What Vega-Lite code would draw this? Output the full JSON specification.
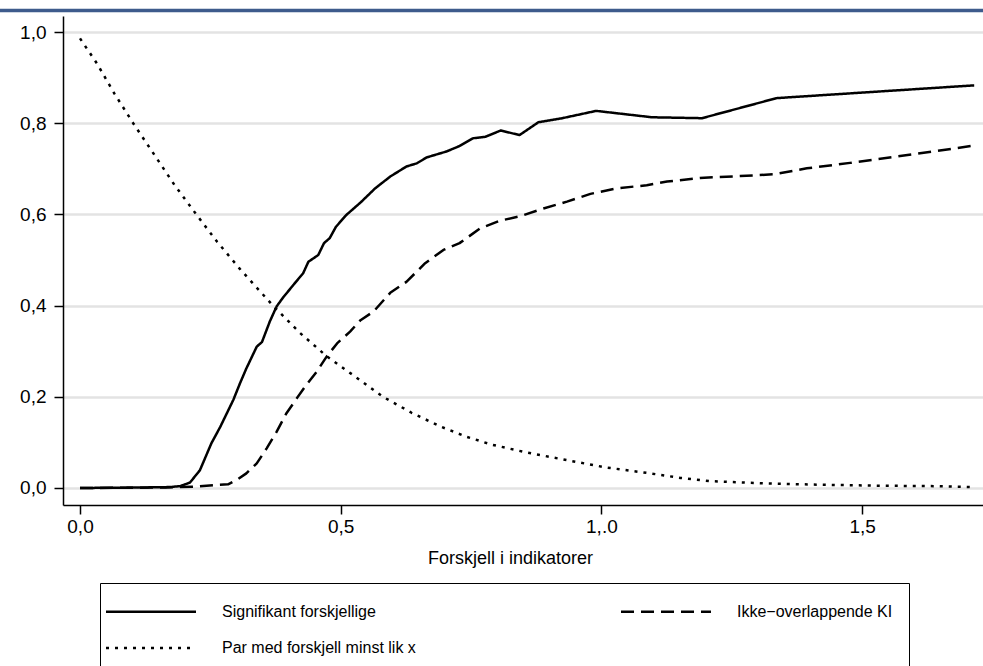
{
  "$schema": "https://vega.github.io/schema/vega-lite/v6.json",
  "width": 920,
  "height": 489,
  "autosize": {"type": "none"},
  "padding": {"left": 63, "top": 16, "right": 0, "bottom": 161},
  "background": "white",
  "config": {
    "view": {"stroke": null},
    "font": "Liberation Sans"
  },
  "datasets": {
    "curves": [
      {"serie": "Signifikant forskjellige", "x": 0.0, "y": 0.0},
      {"serie": "Signifikant forskjellige", "x": 0.110, "y": 0.001},
      {"serie": "Signifikant forskjellige", "x": 0.172, "y": 0.002},
      {"serie": "Signifikant forskjellige", "x": 0.192, "y": 0.004},
      {"serie": "Signifikant forskjellige", "x": 0.211, "y": 0.012},
      {"serie": "Signifikant forskjellige", "x": 0.230, "y": 0.039},
      {"serie": "Signifikant forskjellige", "x": 0.252, "y": 0.098},
      {"serie": "Signifikant forskjellige", "x": 0.269, "y": 0.134},
      {"serie": "Signifikant forskjellige", "x": 0.294, "y": 0.193},
      {"serie": "Signifikant forskjellige", "x": 0.307, "y": 0.230},
      {"serie": "Signifikant forskjellige", "x": 0.319, "y": 0.262},
      {"serie": "Signifikant forskjellige", "x": 0.339, "y": 0.310},
      {"serie": "Signifikant forskjellige", "x": 0.349, "y": 0.320},
      {"serie": "Signifikant forskjellige", "x": 0.364, "y": 0.365},
      {"serie": "Signifikant forskjellige", "x": 0.377, "y": 0.398},
      {"serie": "Signifikant forskjellige", "x": 0.389, "y": 0.417},
      {"serie": "Signifikant forskjellige", "x": 0.409, "y": 0.445},
      {"serie": "Signifikant forskjellige", "x": 0.428, "y": 0.471},
      {"serie": "Signifikant forskjellige", "x": 0.438, "y": 0.496},
      {"serie": "Signifikant forskjellige", "x": 0.457, "y": 0.511},
      {"serie": "Signifikant forskjellige", "x": 0.468, "y": 0.537},
      {"serie": "Signifikant forskjellige", "x": 0.479, "y": 0.548},
      {"serie": "Signifikant forskjellige", "x": 0.491, "y": 0.573},
      {"serie": "Signifikant forskjellige", "x": 0.511, "y": 0.599},
      {"serie": "Signifikant forskjellige", "x": 0.538, "y": 0.626},
      {"serie": "Signifikant forskjellige", "x": 0.566, "y": 0.657},
      {"serie": "Signifikant forskjellige", "x": 0.595, "y": 0.683},
      {"serie": "Signifikant forskjellige", "x": 0.626, "y": 0.705},
      {"serie": "Signifikant forskjellige", "x": 0.646, "y": 0.712},
      {"serie": "Signifikant forskjellige", "x": 0.665, "y": 0.725},
      {"serie": "Signifikant forskjellige", "x": 0.703, "y": 0.738},
      {"serie": "Signifikant forskjellige", "x": 0.728, "y": 0.750},
      {"serie": "Signifikant forskjellige", "x": 0.754, "y": 0.767},
      {"serie": "Signifikant forskjellige", "x": 0.777, "y": 0.770},
      {"serie": "Signifikant forskjellige", "x": 0.807, "y": 0.784},
      {"serie": "Signifikant forskjellige", "x": 0.843, "y": 0.774},
      {"serie": "Signifikant forskjellige", "x": 0.879, "y": 0.802},
      {"serie": "Signifikant forskjellige", "x": 0.925, "y": 0.811},
      {"serie": "Signifikant forskjellige", "x": 0.990, "y": 0.827},
      {"serie": "Signifikant forskjellige", "x": 1.097, "y": 0.813},
      {"serie": "Signifikant forskjellige", "x": 1.193, "y": 0.811},
      {"serie": "Signifikant forskjellige", "x": 1.336, "y": 0.855},
      {"serie": "Signifikant forskjellige", "x": 1.715, "y": 0.883},

      {"serie": "Ikke−overlappende KI", "x": 0.0, "y": 0.0},
      {"serie": "Ikke−overlappende KI", "x": 0.165, "y": 0.001},
      {"serie": "Ikke−overlappende KI", "x": 0.219, "y": 0.003},
      {"serie": "Ikke−overlappende KI", "x": 0.255, "y": 0.006},
      {"serie": "Ikke−overlappende KI", "x": 0.284, "y": 0.008},
      {"serie": "Ikke−overlappende KI", "x": 0.301, "y": 0.018},
      {"serie": "Ikke−overlappende KI", "x": 0.319, "y": 0.032},
      {"serie": "Ikke−overlappende KI", "x": 0.339, "y": 0.054},
      {"serie": "Ikke−overlappende KI", "x": 0.358, "y": 0.087},
      {"serie": "Ikke−overlappende KI", "x": 0.377, "y": 0.123},
      {"serie": "Ikke−overlappende KI", "x": 0.396, "y": 0.164},
      {"serie": "Ikke−overlappende KI", "x": 0.416, "y": 0.197},
      {"serie": "Ikke−overlappende KI", "x": 0.434, "y": 0.226},
      {"serie": "Ikke−overlappende KI", "x": 0.454, "y": 0.255},
      {"serie": "Ikke−overlappende KI", "x": 0.473, "y": 0.288},
      {"serie": "Ikke−overlappende KI", "x": 0.493, "y": 0.317},
      {"serie": "Ikke−overlappende KI", "x": 0.518, "y": 0.343},
      {"serie": "Ikke−overlappende KI", "x": 0.538, "y": 0.368},
      {"serie": "Ikke−overlappende KI", "x": 0.563, "y": 0.387},
      {"serie": "Ikke−overlappende KI", "x": 0.595, "y": 0.428},
      {"serie": "Ikke−overlappende KI", "x": 0.626, "y": 0.452},
      {"serie": "Ikke−overlappende KI", "x": 0.662, "y": 0.493},
      {"serie": "Ikke−overlappende KI", "x": 0.697, "y": 0.522},
      {"serie": "Ikke−overlappende KI", "x": 0.728, "y": 0.537},
      {"serie": "Ikke−overlappende KI", "x": 0.767, "y": 0.569},
      {"serie": "Ikke−overlappende KI", "x": 0.805, "y": 0.586},
      {"serie": "Ikke−overlappende KI", "x": 0.844, "y": 0.596},
      {"serie": "Ikke−overlappende KI", "x": 0.889, "y": 0.613},
      {"serie": "Ikke−overlappende KI", "x": 0.934, "y": 0.628},
      {"serie": "Ikke−overlappende KI", "x": 0.979, "y": 0.645},
      {"serie": "Ikke−overlappende KI", "x": 1.029, "y": 0.657},
      {"serie": "Ikke−overlappende KI", "x": 1.087, "y": 0.664},
      {"serie": "Ikke−overlappende KI", "x": 1.126, "y": 0.672},
      {"serie": "Ikke−overlappende KI", "x": 1.189, "y": 0.680},
      {"serie": "Ikke−overlappende KI", "x": 1.266, "y": 0.684},
      {"serie": "Ikke−overlappende KI", "x": 1.331, "y": 0.688},
      {"serie": "Ikke−overlappende KI", "x": 1.394, "y": 0.701},
      {"serie": "Ikke−overlappende KI", "x": 1.477, "y": 0.713},
      {"serie": "Ikke−overlappende KI", "x": 1.573, "y": 0.728},
      {"serie": "Ikke−overlappende KI", "x": 1.637, "y": 0.738},
      {"serie": "Ikke−overlappende KI", "x": 1.714, "y": 0.751},

      {"serie": "Par med forskjell minst lik x", "x": 0.0, "y": 0.986},
      {"serie": "Par med forskjell minst lik x", "x": 0.033, "y": 0.93},
      {"serie": "Par med forskjell minst lik x", "x": 0.066, "y": 0.865},
      {"serie": "Par med forskjell minst lik x", "x": 0.102, "y": 0.80},
      {"serie": "Par med forskjell minst lik x", "x": 0.143, "y": 0.73},
      {"serie": "Par med forskjell minst lik x", "x": 0.181, "y": 0.665},
      {"serie": "Par med forskjell minst lik x", "x": 0.223, "y": 0.60},
      {"serie": "Par med forskjell minst lik x", "x": 0.263, "y": 0.54},
      {"serie": "Par med forskjell minst lik x", "x": 0.307, "y": 0.48},
      {"serie": "Par med forskjell minst lik x", "x": 0.370, "y": 0.40},
      {"serie": "Par med forskjell minst lik x", "x": 0.422, "y": 0.34},
      {"serie": "Par med forskjell minst lik x", "x": 0.472, "y": 0.29},
      {"serie": "Par med forskjell minst lik x", "x": 0.527, "y": 0.245},
      {"serie": "Par med forskjell minst lik x", "x": 0.581, "y": 0.20},
      {"serie": "Par med forskjell minst lik x", "x": 0.636, "y": 0.165},
      {"serie": "Par med forskjell minst lik x", "x": 0.691, "y": 0.135},
      {"serie": "Par med forskjell minst lik x", "x": 0.742, "y": 0.112},
      {"serie": "Par med forskjell minst lik x", "x": 0.790, "y": 0.095},
      {"serie": "Par med forskjell minst lik x", "x": 0.856, "y": 0.078},
      {"serie": "Par med forskjell minst lik x", "x": 0.934, "y": 0.061},
      {"serie": "Par med forskjell minst lik x", "x": 1.009, "y": 0.045},
      {"serie": "Par med forskjell minst lik x", "x": 1.094, "y": 0.032},
      {"serie": "Par med forskjell minst lik x", "x": 1.152, "y": 0.022},
      {"serie": "Par med forskjell minst lik x", "x": 1.207, "y": 0.015},
      {"serie": "Par med forskjell minst lik x", "x": 1.317, "y": 0.010},
      {"serie": "Par med forskjell minst lik x", "x": 1.426, "y": 0.007},
      {"serie": "Par med forskjell minst lik x", "x": 1.536, "y": 0.005},
      {"serie": "Par med forskjell minst lik x", "x": 1.646, "y": 0.004},
      {"serie": "Par med forskjell minst lik x", "x": 1.713, "y": 0.002}
    ],
    "band": [{"x0": -0.16, "x1": 1.8, "y": 1.047}]
  },
  "layer": [
    {
      "data": {"name": "band"},
      "mark": {"type": "rule", "color": "#3e5b8c", "strokeWidth": 3.5, "clip": false},
      "encoding": {
        "x": {"field": "x0", "type": "quantitative", "scale": {"domain": [-0.0326, 1.7319], "nice": false, "zero": false}},
        "x2": {"field": "x1"},
        "y": {"field": "y", "type": "quantitative", "scale": {"domain": [-0.0373, 1.0351], "nice": false, "zero": false}}
      }
    },
    {
      "data": {"name": "curves"},
      "mark": {"type": "line", "color": "black", "strokeWidth": 2.5, "strokeCap": "butt", "strokeJoin": "round"},
      "encoding": {
        "x": {
          "field": "x", "type": "quantitative",
          "scale": {"domain": [-0.0326, 1.7319], "nice": false, "zero": false},
          "axis": {
            "values": [0, 0.5, 1, 1.5],
            "labelExpr": "datum.value == 1 ? '1,.0' : replace(format(datum.value, '.1f'), '.', ',')",
            "title": "Forskjell i indikatorer",
            "titleFont": "Liberation Sans", "titleFontSize": 18, "titleFontWeight": "normal", "titleColor": "black",
            "titlePadding": 13,
            "titleX": 447,
            "titleAnchor": "start",
            "titleAlign": "center",
            "labelFont": "Liberation Sans", "labelFontSize": 19, "labelColor": "black", "labelPadding": 3,
            "domainColor": "black", "domainWidth": 1.5,
            "tickColor": "black", "tickWidth": 1.5, "tickSize": 9,
            "grid": false
          }
        },
        "y": {
          "field": "y", "type": "quantitative",
          "scale": {"domain": [-0.0373, 1.0351], "nice": false, "zero": false},
          "axis": {
            "values": [0, 0.2, 0.4, 0.6, 0.8, 1.0],
            "labelExpr": "replace(format(datum.value, '.1f'), '.', ',')",
            "title": null,
            "labelFont": "Liberation Sans", "labelFontSize": 19, "labelColor": "black", "labelPadding": 8,
            "domainColor": "black", "domainWidth": 1.5,
            "tickColor": "black", "tickWidth": 1.5, "tickSize": 9,
            "grid": true, "gridColor": "#e3e3e3", "gridWidth": 2.5
          }
        },
        "detail": {"field": "serie"},
        "strokeDash": {
          "field": "serie", "type": "nominal",
          "scale": {
            "domain": ["Signifikant forskjellige", "Ikke−overlappende KI", "Par med forskjell minst lik x"],
            "range": [[1, 0], [13, 7], [3, 6]]
          },
          "legend": {
            "title": null,
            "orient": "none",
            "legendX": 37,
            "legendY": 567,
            "direction": "horizontal",
            "columns": 2,
            "columnPadding": 200,
            "rowPadding": 15.5,
            "padding": 16,
            "strokeColor": "black",
            "fillColor": "white",
            "symbolType": "M-2,0H6",
            "symbolSize": 506,
            "symbolStrokeWidth": 2.5,
            "symbolStrokeColor": "black",
            "labelFont": "Liberation Sans",
            "labelFontSize": 16,
            "labelColor": "black",
            "labelOffset": 81,
            "labelLimit": 400
          }
        }
      }
    }
  ]
}
